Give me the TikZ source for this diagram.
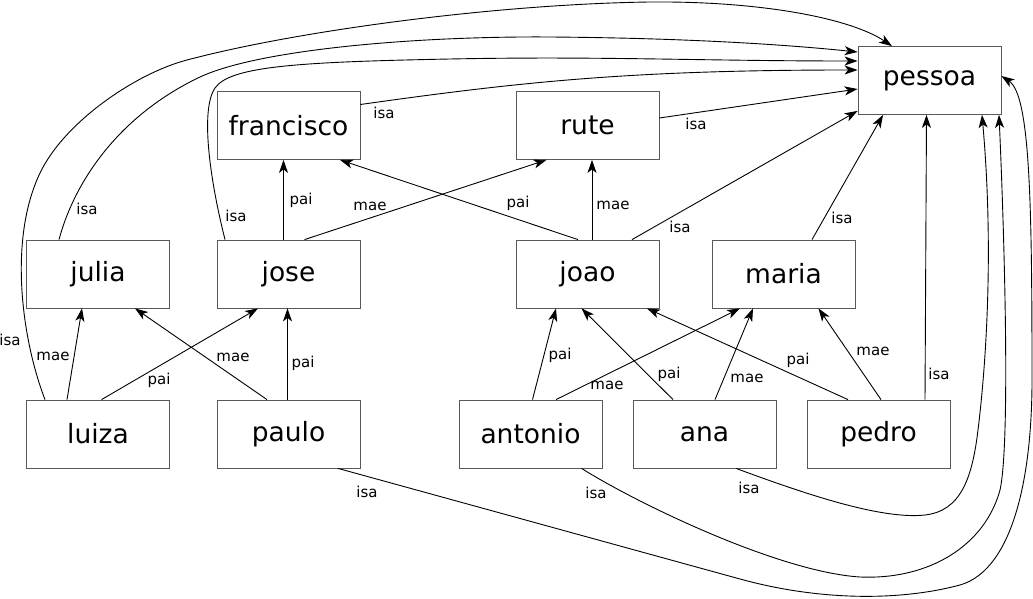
\documentclass[tikz,border=0pt]{standalone}
\usepackage{fontspec}
\setmainfont{DejaVu Sans}
\usetikzlibrary{arrows.meta}
\tikzset{
  ent/.style={draw=black!65, line width=0.8pt, minimum width=143pt, minimum height=68pt, inner sep=0pt, font=\fontsize{26.5}{30}\selectfont},
  lbl/.style={inner sep=0pt, font=\fontsize{15}{18}\selectfont},
  rel/.style={black, line width=0.9pt, -{Stealth[length=13pt,width=9pt,inset=3.5pt]}}
}
\begin{document}
\begin{tikzpicture}[x=1pt,y=-1pt]
\useasboundingbox (0,0) rectangle (1033,599);
\node [ent] (pessoa) at (929.5,80.5) {pessoa};
\node [ent] (francisco) at (288.5,125.5) {francisco};
\node [ent] (rute) at (587.5,125.5) {rute};
\node [ent] (julia) at (98,274) {julia};
\node [ent] (jose) at (288.5,274) {jose};
\node [ent] (joao) at (587.5,274) {joao};
\node [ent] (maria) at (783.5,274) {maria};
\node [ent] (luiza) at (98,434) {luiza};
\node [ent] (paulo) at (288.5,434) {paulo};
\node [ent] (antonio) at (530.5,434) {antonio};
\node [ent] (ana) at (704.5,434) {ana};
\node [ent] (pedro) at (878.5,434) {pedro};
\draw [rel] ([yshift=21pt]francisco.east) .. controls (520,82) and (630,70) .. ([yshift=10.5pt]pessoa.west);
\node [lbl] (l-fp) at (384,113) {isa};
\draw [rel] ([yshift=7.5pt]rute.east) -- ([yshift=-8.5pt]pessoa.west);
\node [lbl] (l-rp) at (696,124) {isa};
\draw [rel] ([xshift=44.5pt]joao.north) -- ([yshift=4pt]pessoa.south west);
\node [lbl] (l-jop) at (680,227) {isa};
\draw [rel] ([xshift=28.5pt]maria.north) -- ([xshift=-46.5pt]pessoa.south);
\node [lbl] (l-mp) at (842,218) {isa};
\draw [rel] ([xshift=46.5pt]pedro.north) -- ([xshift=-3pt]pessoa.south);
\node [lbl] (l-pep) at (939,374) {isa};
\draw [rel] ([xshift=-5pt]jose.north) -- ([xshift=-5pt]francisco.south);
\node [lbl] (l-jf) at (301,200) {pai};
\draw [rel] ([xshift=16pt]jose.north) -- ([xshift=-41pt]rute.south);
\node [lbl] (l-jr) at (370,206) {mae};
\draw [rel] ([xshift=-9.5pt]joao.north) -- ([xshift=51.5pt]francisco.south);
\node [lbl] (l-jof) at (518,203) {pai};
\draw [rel] ([xshift=4.5pt]joao.north) -- ([xshift=4.5pt]rute.south);
\node [lbl] (l-jor) at (613,205) {mae};
\draw [rel] ([xshift=-31pt]luiza.north) -- ([xshift=-16pt]julia.south);
\node [lbl] (l-luju) at (53,356) {mae};
\draw [rel] ([xshift=3.5pt]luiza.north) -- ([xshift=-30.5pt]jose.south);
\node [lbl] (l-lujo) at (159,380) {pai};
\draw [rel] ([xshift=-21.5pt]paulo.north) -- ([xshift=37pt]julia.south);
\node [lbl] (l-paju) at (233,357) {mae};
\draw [rel] ([xshift=-1pt]paulo.north) -- ([xshift=-1pt]jose.south);
\node [lbl] (l-pajo) at (303,363) {pai};
\draw [rel] ([xshift=2pt]antonio.north) -- ([xshift=-31.5pt]joao.south);
\node [lbl] (l-antjo) at (560,355) {pai};
\draw [rel] ([xshift=25.5pt]antonio.north) -- ([xshift=-43.5pt]maria.south);
\node [lbl] (l-antma) at (607,385) {mae};
\draw [rel] ([xshift=-31.5pt]ana.north) -- ([xshift=-6pt]joao.south);
\node [lbl] (l-anajo) at (669,374) {pai};
\draw [rel] ([xshift=10.5pt]ana.north) -- ([xshift=-30.5pt]maria.south);
\node [lbl] (l-anama) at (747,378) {mae};
\draw [rel] ([xshift=-30.5pt]pedro.north) -- ([xshift=59.5pt]joao.south);
\node [lbl] (l-pejo) at (798,360) {pai};
\draw [rel] ([xshift=2.5pt]pedro.north) -- ([xshift=35pt]maria.south);
\node [lbl] (l-pema) at (873,351) {mae};
\draw [rel] ([xshift=-53pt]luiza.north) .. controls (22,340) and (8,240) .. (40,173) .. controls (65,121) and (137,73) .. (187,60) .. controls (300,30) and (500,4) .. (650,2) .. controls (760,1) and (850,18) .. ([xshift=-37.5pt]pessoa.north);
\node [lbl] (l-lup) at (10,340) {isa};
\draw [rel] ([xshift=-39pt]julia.north) .. controls (75,180) and (120,115) .. (200,77) .. controls (260,49) and (420,36) .. (550,37) .. controls (680,38) and (780,44) .. ([yshift=28.5pt]pessoa.west);
\node [lbl] (l-jup) at (87,209) {isa};
\draw [rel] ([xshift=-63.5pt]jose.north) .. controls (210,180) and (200,110) .. (215,88) .. controls (230,66) and (300,62) .. (450,59) .. controls (600,56) and (700,61) .. ([yshift=19.5pt]pessoa.west);
\node [lbl] (l-josp) at (236,216) {isa};
\draw [rel] ([xshift=49.5pt]paulo.south) -- (740,579) .. controls (820,601) and (900,601) .. (960,585) .. controls (1012,570) and (1032,480) .. (1032,380) .. controls (1032,200) and (1030,95) .. ([yshift=4.5pt]pessoa.east);
\node [lbl] (l-pap) at (367,492) {isa};
\draw [rel] ([xshift=51pt]antonio.south) .. controls (640,505) and (780,572) .. (860,577) .. controls (930,580) and (985,545) .. (1000,490) .. controls (1010,445) and (1005,250) .. ([xshift=69.5pt]pessoa.south);
\node [lbl] (l-antp) at (596,493) {isa};
\draw [rel] ([xshift=31.5pt]ana.south) .. controls (800,492) and (880,520) .. (925,515) .. controls (960,511) and (972,480) .. (978,430) .. controls (986,365) and (994,250) .. ([xshift=52.5pt]pessoa.south);
\node [lbl] (l-anap) at (749,488) {isa};
\end{tikzpicture}
\end{document}
